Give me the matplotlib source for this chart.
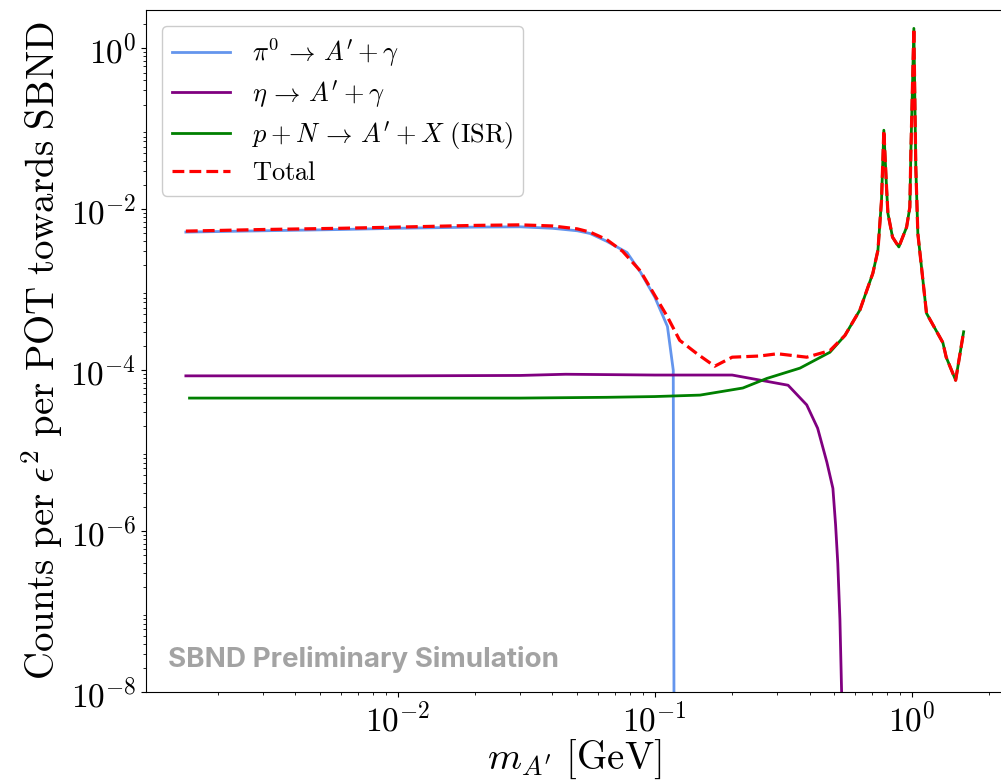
import matplotlib
matplotlib.use("Agg")
import matplotlib.pyplot as plt

plt.rcParams['font.family'] = 'serif'
plt.rcParams['font.serif'] = ['cmr10']
plt.rcParams['mathtext.fontset'] = 'cm'
plt.rcParams['axes.formatter.use_mathtext'] = True
plt.rcParams['axes.unicode_minus'] = False

# pi0 -> A' + gamma
pi0_mass = [0.0015, 0.003, 0.006, 0.01, 0.02, 0.03, 0.04, 0.05, 0.056, 0.065,
            0.078, 0.088, 0.1, 0.112, 0.118, 0.1195]
pi0_counts = [5.2e-3, 5.4e-3, 5.6e-3, 5.8e-3, 6.0e-3, 6.05e-3, 5.8e-3, 5.4e-3, 5.0e-3, 4.0e-3,
              2.9e-3, 1.65e-3, 8.1e-4, 3.5e-4, 1.0e-4, 1e-12]

# eta -> A' + gamma
eta_mass = [0.0015, 0.01, 0.03, 0.045, 0.1, 0.2, 0.33, 0.39, 0.43, 0.467,
            0.493, 0.505, 0.515, 0.525, 0.533, 0.54]
eta_counts = [8.5e-5, 8.5e-5, 8.6e-5, 8.9e-5, 8.7e-5, 8.7e-5, 6.5e-5, 3.7e-5, 1.9e-5, 7.2e-6,
              3.4e-6, 1.2e-6, 4e-7, 8e-8, 1e-8, 1e-10]

# p + N -> A' + X (ISR)
isr_mass = [0.00155, 0.01, 0.03, 0.065, 0.1, 0.15, 0.22, 0.273, 0.367, 0.48,
            0.549, 0.628, 0.705, 0.738, 0.762, 0.778, 0.797, 0.807, 0.841, 0.890,
            0.954, 0.982, 0.991, 1.018, 1.036, 1.055, 1.14, 1.32, 1.36, 1.48, 1.59]
isr_counts = [4.5e-5, 4.5e-5, 4.5e-5, 4.6e-5, 4.7e-5, 4.9e-5, 6.0e-5, 7.9e-5, 1.06e-4, 1.67e-4,
              2.7e-4, 5.6e-4, 1.6e-3, 3.1e-3, 1.29e-2, 9.6e-2, 1.88e-2, 8.9e-3, 4.5e-3, 3.4e-3,
              6.0e-3, 1.06e-2, 4.96e-2, 1.77, 3.3e-2, 5.0e-3, 5.1e-4, 2.2e-4, 1.45e-4, 7.5e-5, 3.0e-4]

# Total
tot_mass = [0.0015, 0.003, 0.006, 0.01, 0.02, 0.03, 0.04, 0.05, 0.056, 0.065,
            0.075, 0.088, 0.098, 0.112, 0.125, 0.146, 0.171, 0.2, 0.256, 0.3,
            0.39, 0.48, 0.549, 0.628, 0.705, 0.738, 0.762, 0.778, 0.797, 0.807,
            0.841, 0.890, 0.954, 0.982, 0.991, 1.018, 1.036, 1.055, 1.14, 1.32,
            1.36, 1.48, 1.59]
tot_counts = [5.35e-3, 5.6e-3, 5.8e-3, 6.0e-3, 6.3e-3, 6.4e-3, 6.2e-3, 5.7e-3, 5.2e-3, 4.2e-3,
              3.0e-3, 1.7e-3, 9.5e-4, 4.6e-4, 2.35e-4, 1.6e-4, 1.12e-4, 1.45e-4, 1.5e-4, 1.6e-4,
              1.45e-4, 1.75e-4, 2.7e-4, 5.6e-4, 1.6e-3, 3.1e-3, 1.29e-2, 9.6e-2, 1.88e-2, 8.9e-3,
              4.5e-3, 3.4e-3, 6.0e-3, 1.06e-2, 4.96e-2, 1.77, 3.3e-2, 5.0e-3, 5.1e-4, 2.2e-4,
              1.45e-4, 7.5e-5, 3.0e-4]

fig = plt.figure(figsize=(10.01, 7.8), dpi=100)
ax = fig.add_axes([0.1459, 0.1128, 0.856, 0.874])

ax.plot(pi0_mass, pi0_counts, color='cornflowerblue', lw=2,
        label=r'$\pi^0 \,\rightarrow\, A^{\prime} + \gamma$')
ax.plot(eta_mass, eta_counts, color='purple', lw=2,
        label=r'$\eta \,\rightarrow\, A^{\prime} + \gamma$')
ax.plot(isr_mass, isr_counts, color='green', lw=2,
        label=r'$p + N \,\rightarrow\, A^{\prime} + X\ \mathrm{(ISR)}$')
ax.plot(tot_mass, tot_counts, color='red', lw=2.3, ls='--', label=r'$\mathrm{Total}$')

ax.set_xscale('log')
ax.set_yscale('log')
ax.set_xlim(1.05e-3, 2.26)
ax.set_ylim(1e-8, 2.97)
ax.set_yticks([1e-8, 1e-6, 1e-4, 1e-2, 1e0])

ax.tick_params(axis='both', which='major', labelsize=24)
ax.set_xlabel(r"$m_{A^{\prime}}\ [\mathrm{GeV}]$", fontsize=28, labelpad=0)
ax.set_ylabel(r"$\mathrm{Counts\ per\ }\epsilon^2\mathrm{\ per\ POT\ towards\ SBND}$", fontsize=28, labelpad=4)

ax.legend(loc='upper left', fontsize=19, framealpha=1.0, borderaxespad=0.6,
          handlelength=2.2, labelspacing=0.35)

ax.text(0.026, 0.047, 'SBND Preliminary Simulation', transform=ax.transAxes,
        family='Inter', fontweight='bold', fontsize=20, color='#a3a3a3',
        ha='left', va='center')

fig.savefig('out.png', dpi=100)
